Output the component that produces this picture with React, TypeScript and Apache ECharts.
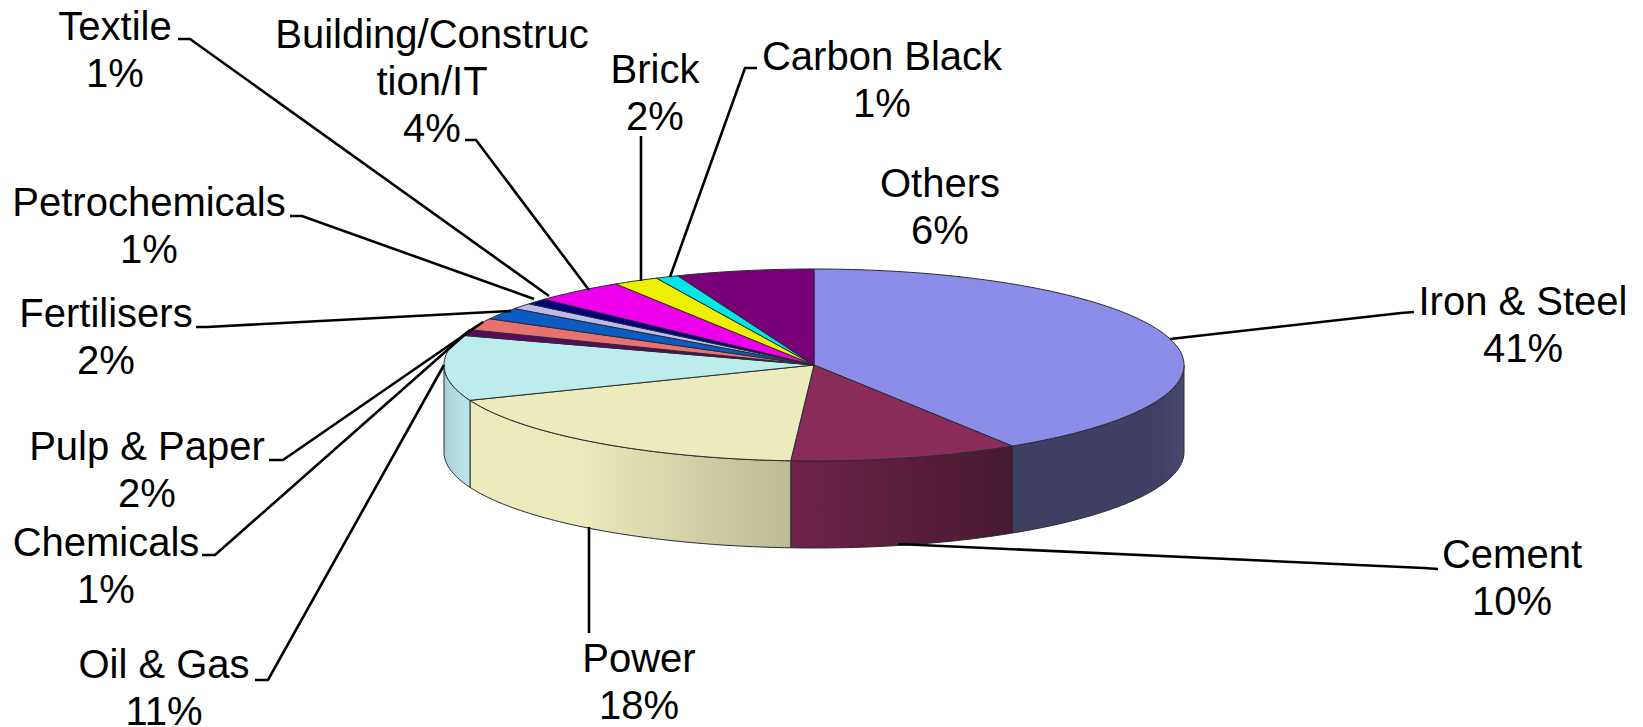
import { useEffect, useRef } from "react";
import * as echarts from "echarts";

const sectors = [
  "Iron & Steel", "Cement", "Power", "Oil & Gas", "Chemicals", "Pulp & Paper",
  "Fertilisers", "Petrochemicals", "Textile", "Building/Construc\ntion/IT",
  "Brick", "Carbon Black", "Others",
];
const shares = [41, 10, 18, 11, 1, 2, 2, 1, 1, 4, 2, 1, 6];
const topColors = [
  "#8c8ce9", "#8a2c5a", "#ecebbc", "#bcecec", "#5a0a5e", "#e87272", "#0a5cc4",
  "#bcbcec", "#00007e", "#ee00ee", "#eeee00", "#00e6e6", "#780078",
];

// Side wall shading, left to right, for the slices that face the viewer
const wallShades: Record<number, [number, string][]> = {
  0: [[0, "#3f3f63"], [0.85, "#3f3f63"], [1, "#484870"]],
  1: [[0, "#6e2349"], [1, "#481a30"]],
  2: [[0, "#ecebbc"], [0.35, "#ebeabb"], [1, "#bcbb92"]],
  3: [[0, "#a6d2d8"], [1, "#bce8e8"]],
};

// Text block centre and leader polyline for each sector, in page pixels
const labelAnchors: [number, number][] = [
  [1523, 324], [1512, 577], [639, 681], [164, 687], [106, 565], [147, 469],
  [106, 336], [149, 225], [115, 49], [432, 81], [655, 92], [882, 79], [940, 206],
];
const leaders: ([number, number][] | null)[] = [
  [[1414, 312], [1401, 313], [1170, 339]],
  [[1438, 569], [1424, 568], [898, 544]],
  [[589, 633], [589, 527]],
  [[255, 680], [268, 680], [444, 365]],
  [[202, 555], [215, 555], [470, 330]],
  [[269, 460], [283, 460], [483, 322]],
  [[196, 327], [207, 327], [511, 311]],
  [[290, 216], [302, 216], [534, 299]],
  [[178, 39], [190, 39], [549, 296]],
  [[465, 140], [476, 140], [589, 290]],
  [[641, 136], [641, 281]],
  [[757, 68], [745, 68], [670, 277]],
  null,
];

const CX = 814;
const CY = 365;
const RX = 370;
const RY = 96;
const DEPTH = 87;

const rim = (deg: number, drop = 0): [number, number] => {
  const a = (deg * Math.PI) / 180;
  return [CX + RX * Math.sin(a), CY - RY * Math.cos(a) + drop];
};

const spans = (() => {
  const total = shares.reduce((s, v) => s + v, 0);
  let acc = 0;
  return shares.map((v) => {
    const start = (acc / total) * 360;
    acc += v;
    return [start, (acc / total) * 360];
  });
})();

const arcPoints = (from: number, to: number, drop = 0) => {
  const pts: [number, number][] = [];
  const steps = Math.max(2, Math.ceil(Math.abs(to - from)));
  for (let i = 0; i <= steps; i++) pts.push(rim(from + ((to - from) * i) / steps, drop));
  return pts;
};

const edge = { stroke: "#2a2a33", lineWidth: 1 };

export default function App() {
  const ref = useRef<HTMLDivElement>(null);

  useEffect(() => {
    const chart = echarts.init(ref.current!, null, { renderer: "svg" });
    const rows = shares.map((v, i) => [v, i]);

    chart.setOption({
      animation: false,
      backgroundColor: "#ffffff",
      series: [
        {
          type: "custom",
          coordinateSystem: "none",
          silent: true,
          z: 1,
          data: rows,
          renderItem: (_p: any, api: any) => {
            const i = api.value(1);
            const from = Math.max(spans[i][0], 90);
            const to = Math.min(spans[i][1], 270);
            if (to <= from) return { type: "group", children: [] };
            const top = arcPoints(from, to);
            const bottom = arcPoints(to, from, DEPTH);
            const stops = wallShades[i] || [[0, topColors[i]], [1, topColors[i]]];
            return {
              type: "polygon",
              shape: { points: [...top, ...bottom] },
              style: {
                ...edge,
                fill: new echarts.graphic.LinearGradient(
                  0, 0, 1, 0,
                  stops.map(([offset, color]) => ({ offset, color })),
                ),
              },
            };
          },
        },
        {
          type: "custom",
          coordinateSystem: "none",
          silent: true,
          z: 2,
          data: rows,
          renderItem: (_p: any, api: any) => {
            const i = api.value(1);
            return {
              type: "polygon",
              shape: { points: [[CX, CY], ...arcPoints(spans[i][0], spans[i][1])] },
              style: { ...edge, fill: topColors[i] },
            };
          },
        },
        {
          type: "custom",
          coordinateSystem: "none",
          silent: true,
          z: 3,
          data: rows,
          renderItem: (_p: any, api: any) => {
            const i = api.value(1);
            const children: any[] = [];
            const path = leaders[i];
            if (path) {
              children.push({
                type: "polyline",
                shape: { points: path },
                style: { stroke: "#000", lineWidth: 2.6, fill: "none" },
              });
            }
            children.push({
              type: "text",
              style: {
                text: `${sectors[i]}\n${api.value(0)}%`,
                x: labelAnchors[i][0],
                y: labelAnchors[i][1],
                align: "center",
                verticalAlign: "middle",
                font: '40px "Liberation Sans", Arial, sans-serif',
                lineHeight: 47,
                fill: "#000",
              },
            });
            return { type: "group", children };
          },
        },
      ],
    });

    return () => chart.dispose();
  }, []);

  return (
    <div
      ref={ref}
      style={{ position: "absolute", left: 0, top: 0, width: 1643, height: 727 }}
    />
  );
}
